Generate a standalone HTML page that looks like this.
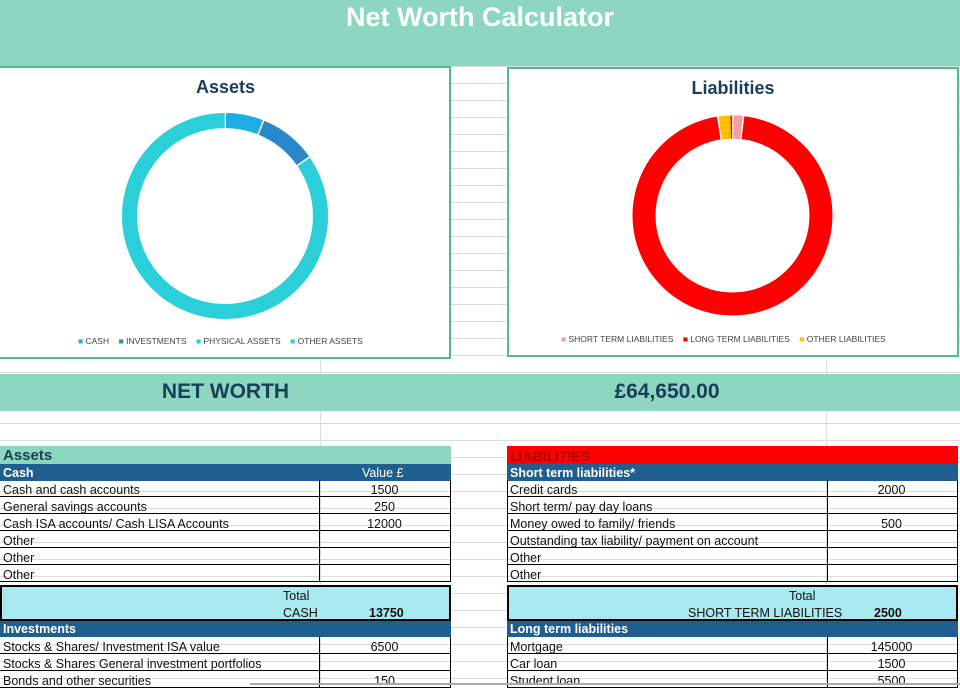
<!DOCTYPE html>
<html><head><meta charset="utf-8"><style>
*{margin:0;padding:0;box-sizing:border-box}
body{width:960px;height:685px;overflow:hidden;background:#fff;font-family:"Liberation Sans",sans-serif;position:relative}
.a{position:absolute}
.grid{background-image:linear-gradient(#dcdcdc 1px,transparent 1px);background-size:100% 17px}
.t{position:absolute;font-size:12.5px;color:#111;white-space:nowrap;line-height:17px;margin-top:2px}
.row{position:absolute;height:17px;border-bottom:1px solid #000;border-left:1px solid #000;border-right:1px solid #000}
.row .v{position:absolute;top:0;height:16px;border-left:1px solid #000}
.hd{position:absolute;height:17px;background:#1f5f8f;color:#fff;font-weight:bold;font-size:12.5px;line-height:19px;padding-left:3px}
</style></head><body>
<div class="a grid" style="left:0;top:66px;width:960px;height:619px"></div>
<div class="a" style="left:320px;top:360px;width:1px;height:325px;background:#dcdcdc"></div>
<div class="a" style="left:826px;top:360px;width:1px;height:325px;background:#dcdcdc"></div>
<div class="a" style="left:0;top:0;width:960px;height:66px;background:#8dd7c1"></div>
<div class="a" style="left:0;top:2px;width:960px;text-align:center;color:#fff;font-weight:bold;font-size:27px">Net Worth Calculator</div>

<div class="a" style="left:-2px;top:66px;width:453px;height:293px;background:#fff;border:2px solid #4dbb9a"></div>
<div class="a" style="left:0;top:77px;width:451px;text-align:center;color:#1a3d5c;font-weight:bold;font-size:18px">Assets</div>
<svg class="a" style="left:0;top:0" width="960" height="360">
<g transform="translate(225,216) rotate(-90)" fill="none" stroke-width="15">
<circle r="95.5" stroke="#2bcfd9" stroke-dasharray="600 0"/>
<circle r="95.5" stroke="#1eaee6" stroke-dasharray="36 564"/>
<circle r="95.5" stroke="#2a88c8" stroke-dasharray="54 546" stroke-dashoffset="-37"/>
<circle r="95.5" stroke="#fff" stroke-width="16" stroke-dasharray="1.5 598.5" stroke-dashoffset="0.5"/>
<circle r="95.5" stroke="#fff" stroke-width="16" stroke-dasharray="1.5 598.5" stroke-dashoffset="-36"/>
<circle r="95.5" stroke="#fff" stroke-width="16" stroke-dasharray="1.5 598.5" stroke-dashoffset="-91"/>
</g>
</svg>
<div class="a" style="left:78px;top:336px;font-size:8.5px;color:#444;white-space:nowrap">
<span style="color:#1eaee6">■</span> CASH &nbsp;&nbsp;&nbsp;<span style="color:#2a88c8">■</span> INVESTMENTS &nbsp;&nbsp;&nbsp;<span style="color:#2bcfd9">■</span> PHYSICAL ASSETS &nbsp;&nbsp;&nbsp;<span style="color:#2bcfd9">■</span> OTHER ASSETS</div>

<div class="a" style="left:507px;top:67px;width:452px;height:290px;background:#fff;border:2px solid #4dbb9a"></div>
<div class="a" style="left:507px;top:78px;width:452px;text-align:center;color:#1a3d5c;font-weight:bold;font-size:18px">Liabilities</div>
<svg class="a" style="left:0;top:0" width="960" height="360">
<g transform="translate(732.5,215.5) rotate(-90)" fill="none" stroke-width="23">
<circle r="88.5" stroke="#ff0000"/>
<circle r="88.5" stroke="#f4a0a0" stroke-dasharray="8 548" stroke-dashoffset="-1"/>
<circle r="88.5" stroke="#ffc000" stroke-dasharray="11 545" stroke-dashoffset="-543"/>
<circle r="88.5" stroke="#fff" stroke-width="24" stroke-dasharray="1.5 554.5" stroke-dashoffset="0.5"/>
<circle r="88.5" stroke="#fff" stroke-width="24" stroke-dasharray="1.5 554.5" stroke-dashoffset="-9"/>
<circle r="88.5" stroke="#fff" stroke-width="24" stroke-dasharray="1.5 554.5" stroke-dashoffset="-542"/>
</g>
</svg>
<div class="a" style="left:561px;top:334px;font-size:8.5px;color:#444;white-space:nowrap">
<span style="color:#f4a0a0">■</span> SHORT TERM LIABILITIES &nbsp;&nbsp;&nbsp;<span style="color:#ff0000">■</span> LONG TERM LIABILITIES &nbsp;&nbsp;&nbsp;<span style="color:#ffc000">■</span> OTHER LIABILITIES</div>

<div class="a" style="left:0;top:374px;width:960px;height:37px;background:#8dd7c1"></div>
<div class="a" style="left:0;top:380px;width:451px;text-align:center;color:#1a3d5c;font-weight:bold;font-size:21px">NET WORTH</div>
<div class="a" style="left:507px;top:380px;width:320px;text-align:center;color:#1a3d5c;font-weight:bold;font-size:21px">£64,650.00</div>

<div class="a" style="left:0;top:446px;width:451px;height:18px;background:#8dd7c1;color:#1a3d5c;font-weight:bold;font-size:15px;line-height:20px;padding-left:3px">Assets</div>
<div class="hd" style="left:0;top:464px;width:451px">Cash<span style="position:absolute;left:362px;font-weight:normal">Value £</span></div>
<div class="hd" style="left:0;top:620px;width:451px">Investments</div>
<div class="a" style="left:0;top:585px;width:451px;height:36px;background:#a8eaf0;border:2px solid #000"></div>
<div class="t" style="left:283px;top:586px">Total</div>
<div class="t" style="left:283px;top:603px">CASH</div>
<div class="t" style="left:369px;top:603px;font-weight:bold">13750</div>

<div class="a" style="left:507px;top:446px;width:451px;height:18px;background:#ff0000;color:#b00000;font-weight:bold;font-size:14px;line-height:20px;padding-left:3px">LIABILITIES</div>
<div class="hd" style="left:507px;top:464px;width:451px">Short term liabilities*</div>
<div class="hd" style="left:507px;top:620px;width:451px">Long term liabilities</div>
<div class="a" style="left:507px;top:585px;width:451px;height:36px;background:#a8eaf0;border:2px solid #000"></div>
<div class="t" style="left:789px;top:586px">Total</div>
<div class="t" style="left:688px;top:603px">SHORT TERM LIABILITIES</div>
<div class="t" style="left:874px;top:603px;font-weight:bold">2500</div>

<div id="rows"></div>
<script>
var L=[["Cash and cash accounts","1500"],["General savings accounts","250"],["Cash ISA accounts/ Cash LISA Accounts","12000"],["Other",""],["Other",""],["Other",""]];
var L2=[["Stocks &amp; Shares/ Investment ISA value","6500"],["Stocks &amp; Shares General investment portfolios",""],["Bonds and other securities","150"]];
var R=[["Credit cards","2000"],["Short term/ pay day loans",""],["Money owed to family/ friends","500"],["Outstanding tax liability/ payment on account",""],["Other",""],["Other",""]];
var R2=[["Mortgage","145000"],["Car loan","1500"],["Student loan","5500"]];
var h="";
function add(arr,x,y0,w,vx,vw){arr.forEach(function(r,i){var y=y0+i*17;
h+='<div class="row" style="left:'+x+'px;top:'+y+'px;width:'+w+'px;border-left:'+(x?1:0)+'px solid #000"><div class="v" style="left:'+vx+'px;width:'+vw+'px"></div></div>';
h+='<div class="t" style="left:'+(x+3)+'px;top:'+y+'px">'+r[0]+'</div>';
h+='<div class="t" style="left:'+(x+vx)+'px;width:'+vw+'px;text-align:center;top:'+y+'px">'+r[1]+'</div>';});}
add(L,0,480,451,319,131);add(L2,0,637,451,319,131);
add(R,507,480,451,319,131);add(R2,507,637,451,319,131);
document.getElementById("rows").innerHTML=h;
</script>
<div class="a" style="left:250px;top:683px;width:710px;height:2px;background:#aaa"></div>
</body></html>
